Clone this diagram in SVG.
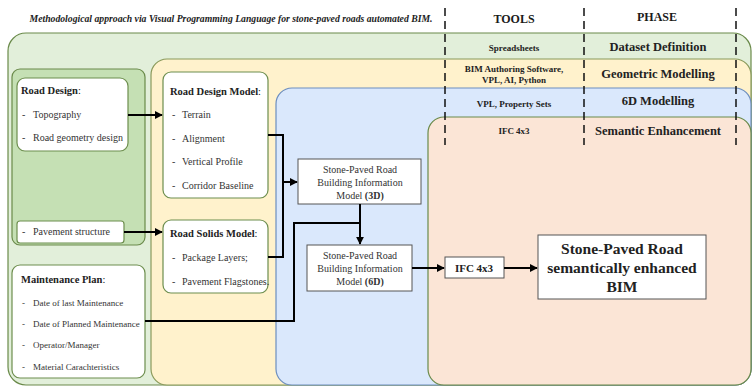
<svg xmlns="http://www.w3.org/2000/svg" width="752" height="386" viewBox="0 0 752 386" font-family="'Liberation Serif', 'DejaVu Serif', serif">
<defs>
<style>
text{font-family:'Liberation Serif','DejaVu Serif',serif;fill:#222}
.b{font-weight:bold}
.hdr{font-size:12px;font-weight:bold;text-anchor:middle;fill:#1a1a1a}
.tool{font-size:9px;font-weight:bold;text-anchor:middle}
.ph{font-size:12.5px;font-weight:bold;text-anchor:middle}
.it{font-size:10px;fill:#333}
.sm{font-size:9px;fill:#333}
.ctr{font-size:10px;text-anchor:middle;fill:#333}
.wbox{fill:#fff;stroke:#6d8e4e;stroke-width:1.2}
.sbox{fill:#fff;stroke:#555;stroke-width:1}
.dash{stroke:#111;stroke-width:1.5;stroke-dasharray:8 5;fill:none}
.con{stroke:#000;stroke-width:2;fill:none}
</style>
<marker id="ah" viewBox="0 0 10 10" refX="9" refY="5" markerWidth="4" markerHeight="4" orient="auto"><path d="M0,0 L10,5 L0,10 z" fill="#000"/></marker>
</defs>
<rect width="752" height="386" fill="#fff"/>
<text x="231" y="22" class="b" font-style="italic" font-size="9.7" text-anchor="middle" textLength="403" lengthAdjust="spacingAndGlyphs">Methodological approach via Visual Programming Language for stone-paved roads automated BIM.</text>

<g id="phase-dataset">
<rect x="8" y="33" width="743" height="352" rx="18" fill="#e2efda" stroke="#6a8a4a" stroke-width="1.2"/>
<text x="514" y="51" class="tool" font-size="9.5">Spreadsheets</text>
<text x="658" y="51" class="ph">Dataset Definition</text>
</g>
<g id="phase-geometric">
<rect x="151" y="59" width="600" height="326" rx="16" fill="#fff2cc" stroke="#8a9a5b" stroke-width="1.2"/>
<text x="514" y="72" class="tool">BIM Authoring Software,</text>
<text x="514" y="83" class="tool">VPL, AI, Python</text>
<text x="658" y="78" class="ph">Geometric Modelling</text>
</g>
<g id="phase-6d">
<rect x="276" y="88" width="475" height="297" rx="16" fill="#dae8fc" stroke="#6c8ebf" stroke-width="1.2"/>
<text x="514" y="107" class="tool">VPL, Property Sets</text>
<text x="658" y="105" class="ph">6D Modelling</text>
</g>
<g id="phase-semantic">
<rect x="428" y="117" width="323" height="268" rx="16" fill="#fbe5d6" stroke="#6a8a4a" stroke-width="1.2"/>
<text x="514" y="134" class="tool">IFC 4x3</text>
<text x="658" y="135" class="ph">Semantic Enhancement</text>
</g>

<g id="headers">
<text x="514" y="23" class="hdr">TOOLS</text>
<text x="657" y="21" class="hdr">PHASE</text>
<line x1="445" y1="8" x2="445" y2="145" class="dash"/>
<line x1="584" y1="8" x2="584" y2="145" class="dash"/>
<line x1="736" y1="8" x2="736" y2="145" class="dash"/>
</g>

<g id="input-group">
<rect x="12" y="69" width="133" height="176" rx="8" fill="#c5e0b4" stroke="#6a8a4a" stroke-width="1.2"/>
</g>
<g id="road-design">
<rect x="17" y="78" width="111" height="73" rx="8" class="wbox"/>
<text x="21" y="94" class="b" font-size="10.5">Road Design<tspan font-weight="normal">:</tspan></text>
<text x="22" y="118" class="it">-</text><text x="33" y="118" class="it">Topography</text>
<text x="22" y="141" class="it">-</text><text x="33" y="141" class="it">Road geometry design</text>
</g>
<g id="pavement-structure">
<rect x="17" y="221" width="107" height="22" rx="3" class="wbox"/>
<text x="22" y="235" class="it">-</text><text x="33" y="235" class="it">Pavement structure</text>
</g>
<g id="maintenance-plan">
<rect x="12" y="265" width="133" height="113" rx="8" class="wbox"/>
<text x="21" y="283" class="b" font-size="10.5">Maintenance Plan<tspan font-weight="normal">:</tspan></text>
<text x="22" y="306" class="sm">-</text><text x="33" y="306" class="sm">Date of last Maintenance</text>
<text x="22" y="327" class="sm">-</text><text x="33" y="327" class="sm">Date of Planned Maintenance</text>
<text x="22" y="348" class="sm">-</text><text x="33" y="348" class="sm">Operator/Manager</text>
<text x="22" y="370" class="sm">-</text><text x="33" y="370" class="sm">Material Carachteristics</text>
</g>
<g id="road-design-model">
<rect x="163" y="72" width="105" height="126" rx="8" class="wbox"/>
<text x="170" y="95" class="b" font-size="10.5">Road Design Model<tspan font-weight="normal">:</tspan></text>
<text x="172" y="118" class="it">-</text><text x="182" y="118" class="it">Terrain</text>
<text x="172" y="142" class="it">-</text><text x="182" y="142" class="it">Alignment</text>
<text x="172" y="165" class="it">-</text><text x="182" y="165" class="it">Vertical Profile</text>
<text x="172" y="189" class="it">-</text><text x="182" y="189" class="it">Corridor Baseline</text>
</g>
<g id="road-solids-model">
<rect x="163" y="220" width="105" height="73" rx="8" class="wbox"/>
<text x="170" y="237" class="b" font-size="10.5">Road Solids Model<tspan font-weight="normal">:</tspan></text>
<text x="172" y="261" class="it">-</text><text x="182" y="261" class="it">Package Layers;</text>
<text x="172" y="285" class="it">-</text><text x="182" y="285" class="it">Pavement Flagstones.</text>
</g>
<g id="bim-3d">
<rect x="298" y="159" width="123" height="45" class="sbox"/>
<text x="360" y="173" class="ctr">Stone-Paved Road</text>
<text x="360" y="186" class="ctr">Building Information</text>
<text x="360" y="199" class="ctr">Model <tspan class="b">(3D)</tspan></text>
</g>
<g id="bim-6d">
<rect x="307" y="245" width="105" height="46" class="sbox"/>
<text x="360" y="259" class="ctr">Stone-Paved Road</text>
<text x="360" y="272" class="ctr">Building Information</text>
<text x="360" y="285" class="ctr">Model <tspan class="b">(6D)</tspan></text>
</g>
<g id="ifc">
<rect x="445" y="257" width="59" height="21" class="sbox"/>
<text x="474" y="272" class="b" font-size="11" text-anchor="middle">IFC 4x3</text>
</g>
<g id="enhanced-bim">
<rect x="538" y="235" width="168" height="64" class="sbox"/>
<text x="622" y="254" class="b" font-size="15.5" text-anchor="middle">Stone-Paved Road</text>
<text x="622" y="273" class="b" font-size="15.5" text-anchor="middle">semantically enhanced</text>
<text x="622" y="292" class="b" font-size="15.5" text-anchor="middle">BIM</text>
</g>

<g id="connectors">
<line x1="128" y1="115" x2="162" y2="115" class="con" marker-end="url(#ah)"/>
<line x1="124" y1="232" x2="162" y2="232" class="con" marker-end="url(#ah)"/>
<polyline points="268,135 283,135 283,257 268,257" class="con"/>
<line x1="283" y1="182" x2="297" y2="182" class="con" marker-end="url(#ah)"/>
<line x1="360" y1="204" x2="360" y2="244" class="con" marker-end="url(#ah)"/>
<polyline points="145,321 294,321 294,223 360,223" class="con" stroke-width="1.6"/>
<line x1="412" y1="268" x2="444" y2="268" class="con" marker-end="url(#ah)"/>
<line x1="504" y1="268" x2="537" y2="268" class="con" marker-end="url(#ah)"/>
</g>
</svg>
